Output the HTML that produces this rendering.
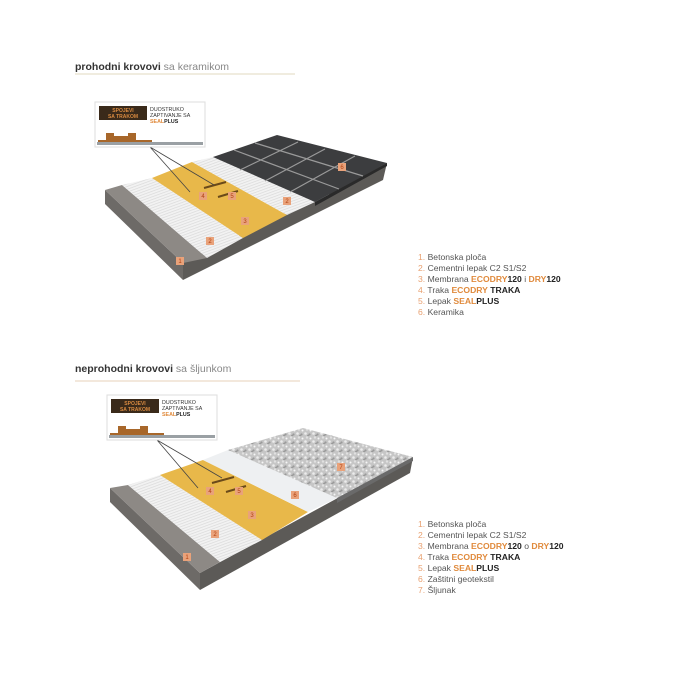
<!DOCTYPE html>
<html><head><meta charset="utf-8"><style>
html,body{margin:0;padding:0;background:#fff;}
svg{display:block;font-family:"Liberation Sans",sans-serif;}
.lg{font-size:8.6px;fill:#555;}
.o{fill:#e08a3c;font-weight:bold;}
.b{fill:#222;font-weight:bold;}
.n{fill:#e8a070;}
</style></head><body>
<svg width="678" height="678" viewBox="0 0 678 678" xmlns="http://www.w3.org/2000/svg">
<defs>
<pattern id="hatch" width="4" height="2.6" patternUnits="userSpaceOnUse" patternTransform="rotate(-20)">
<rect width="4" height="2.6" fill="#f2f2f2"/><rect width="4" height="0.7" fill="#dadada"/></pattern>
<pattern id="grav" width="8" height="8" patternUnits="userSpaceOnUse">
<rect width="8" height="8" fill="#c6c6c6"/>
<circle cx="1.5" cy="1.5" r="1.3" fill="#ececec"/><circle cx="5.5" cy="2.5" r="1.1" fill="#9a9a9a"/>
<circle cx="3" cy="5.5" r="1.2" fill="#e0e0e0"/><circle cx="6.5" cy="6.5" r="1" fill="#f6f6f6"/>
<circle cx="4" cy="3.5" r="0.7" fill="#888"/></pattern>
<g id="badge"><rect x="-4" y="-4" width="8" height="8" fill="#e9a27a"/></g>
</defs>

<!-- TOP -->
<text x="75" y="70" font-size="10.5" fill="#333"><tspan font-weight="bold">prohodni krovovi</tspan><tspan fill="#888"> sa keramikom</tspan></text>
<line x1="75" y1="74" x2="295" y2="74" stroke="#e6e0cc" stroke-width="1.2"/>

<polygon points="105,190 183,263 183,280 105,204" fill="#6d6a67"/>
<polygon points="183,263 387,163 383,180 183,280" fill="#5c5a57"/>
<polygon points="105,190 122,185 207,258 183,263" fill="#8d8985"/>
<polygon points="122,185 152,178 243,238 207,258" fill="url(#hatch)"/>
<polygon points="152,178 192,162 287,215 243,238" fill="#e8b84a"/>
<polygon points="192,162 213,157 315,202 287,215" fill="url(#hatch)"/>
<polygon points="213,157 260,142 330,195 315,202" fill="url(#hatch)"/>
<polygon points="213,157 277,135 387,163 315,202" fill="#3c3d3f"/>
<polygon points="315,202 387,163 387,166 315,206" fill="#2a2a2a"/>
<g stroke="#9a9a9a" stroke-width="1.2">
<line x1="234" y1="150" x2="339" y2="189"/><line x1="255" y1="143" x2="363" y2="176"/>
<line x1="240" y1="170" x2="298" y2="142"/><line x1="265" y1="181" x2="325" y2="149"/><line x1="290" y1="192" x2="355" y2="156"/>
</g>
<g stroke="#6a4a1a" stroke-width="2"><line x1="204" y1="188" x2="226" y2="182"/><line x1="218" y1="197" x2="238" y2="191"/></g>
<line x1="150" y1="147" x2="190" y2="192" stroke="#444" stroke-width="0.8"/>
<line x1="150" y1="147" x2="214" y2="185" stroke="#444" stroke-width="0.8"/>
<!-- inset -->
<rect x="95" y="102" width="110" height="45" fill="#fff" stroke="#ddd"/>
<rect x="99" y="106" width="48" height="14" fill="#3a2a1a"/>
<text x="123" y="112" font-size="5" fill="#d88a40" text-anchor="middle" font-weight="bold">SPOJEVI</text>
<text x="123" y="118" font-size="5" fill="#d88a40" text-anchor="middle" font-weight="bold">SA TRAKOM</text>
<text x="150" y="111" font-size="5.3" fill="#333">DUOSTRUKO</text>
<text x="150" y="117" font-size="5.3" fill="#333">ZAPTIVANJE SA</text>
<text x="150" y="123" font-size="5.3" fill="#e08a3c" font-weight="bold">SEAL<tspan fill="#222">PLUS</tspan></text>
<path d="M98,140 L106,140 L106,133 L114,133 L114,136 L128,136 L128,133 L136,133 L136,140 L152,140 L152,142 L98,142Z" fill="#a8672a"/>
<rect x="97" y="142" width="106" height="3" fill="#9aa0a4"/>

<g font-size="6" fill="#b04010" text-anchor="middle">
<use href="#badge" x="180" y="261"/><text x="180" y="263">1</text>
<use href="#badge" x="210" y="241"/><text x="210" y="243">2</text>
<use href="#badge" x="245" y="221"/><text x="245" y="223">3</text>
<use href="#badge" x="203" y="196"/><text x="203" y="198">4</text>
<use href="#badge" x="232" y="196"/><text x="232" y="198">5</text>
<use href="#badge" x="287" y="201"/><text x="287" y="203">2</text>
<use href="#badge" x="342" y="167"/><text x="342" y="169">6</text>
</g>

<g class="lg">
<text x="418" y="260"><tspan class="n">1. </tspan>Betonska ploča</text>
<text x="418" y="271"><tspan class="n">2. </tspan>Cementni lepak C2 S1/S2</text>
<text x="418" y="282"><tspan class="n">3. </tspan>Membrana <tspan class="o">ECODRY</tspan><tspan class="b">120</tspan> i <tspan class="o">DRY</tspan><tspan class="b">120</tspan></text>
<text x="418" y="293"><tspan class="n">4. </tspan>Traka <tspan class="o">ECODRY</tspan> <tspan class="b">TRAKA</tspan></text>
<text x="418" y="304"><tspan class="n">5. </tspan>Lepak <tspan class="o">SEAL</tspan><tspan class="b">PLUS</tspan></text>
<text x="418" y="315"><tspan class="n">6. </tspan>Keramika</text>
</g>

<!-- BOTTOM -->
<text x="75" y="372" font-size="10.5" fill="#333"><tspan font-weight="bold">neprohodni krovovi</tspan><tspan fill="#888"> sa šljunkom</tspan></text>
<line x1="75" y1="381" x2="300" y2="381" stroke="#ecd9c8" stroke-width="1.2"/>

<polygon points="110,488 200,573 200,590 110,502" fill="#6d6a67"/>
<polygon points="200,573 413,457 410,473 200,590" fill="#5c5a57"/>
<polygon points="110,488 128,485 220,562 200,573" fill="#8d8985"/>
<polygon points="128,485 160,475 262,540 220,562" fill="url(#hatch)"/>
<polygon points="160,475 203,460 308,512 262,540" fill="#e8b84a"/>
<polygon points="203,460 228,450 337,498 308,512" fill="#eef0f2"/>
<polygon points="228,450 280,436 360,486 337,498" fill="#eef0f2"/>
<polygon points="228,450 303,428 413,457 337,498" fill="url(#grav)"/>
<polygon points="337,498 413,457 413,461 337,503" fill="#6a6a6a"/>
<g stroke="#6a4a1a" stroke-width="2"><line x1="212" y1="483" x2="234" y2="477"/><line x1="226" y1="492" x2="246" y2="486"/></g>
<line x1="157" y1="440" x2="198" y2="488" stroke="#444" stroke-width="0.8"/>
<line x1="157" y1="440" x2="222" y2="478" stroke="#444" stroke-width="0.8"/>
<rect x="107" y="395" width="110" height="45" fill="#fff" stroke="#ddd"/>
<rect x="111" y="399" width="48" height="14" fill="#3a2a1a"/>
<text x="135" y="405" font-size="5" fill="#d88a40" text-anchor="middle" font-weight="bold">SPOJEVI</text>
<text x="135" y="411" font-size="5" fill="#d88a40" text-anchor="middle" font-weight="bold">SA TRAKOM</text>
<text x="162" y="404" font-size="5.3" fill="#333">DUOSTRUKO</text>
<text x="162" y="410" font-size="5.3" fill="#333">ZAPTIVANJE SA</text>
<text x="162" y="416" font-size="5.3" fill="#e08a3c" font-weight="bold">SEAL<tspan fill="#222">PLUS</tspan></text>
<path d="M110,433 L118,433 L118,426 L126,426 L126,429 L140,429 L140,426 L148,426 L148,433 L164,433 L164,435 L110,435Z" fill="#a8672a"/>
<rect x="109" y="435" width="106" height="3" fill="#9aa0a4"/>

<g font-size="6" fill="#b04010" text-anchor="middle">
<use href="#badge" x="187" y="557"/><text x="187" y="559">1</text>
<use href="#badge" x="215" y="534"/><text x="215" y="536">2</text>
<use href="#badge" x="252" y="515"/><text x="252" y="517">3</text>
<use href="#badge" x="210" y="491"/><text x="210" y="493">4</text>
<use href="#badge" x="239" y="491"/><text x="239" y="493">5</text>
<use href="#badge" x="295" y="495"/><text x="295" y="497">6</text>
<use href="#badge" x="341" y="467"/><text x="341" y="469">7</text>
</g>

<g class="lg">
<text x="418" y="527"><tspan class="n">1. </tspan>Betonska ploča</text>
<text x="418" y="538"><tspan class="n">2. </tspan>Cementni lepak C2 S1/S2</text>
<text x="418" y="549"><tspan class="n">3. </tspan>Membrana <tspan class="o">ECODRY</tspan><tspan class="b">120</tspan> o <tspan class="o">DRY</tspan><tspan class="b">120</tspan></text>
<text x="418" y="560"><tspan class="n">4. </tspan>Traka <tspan class="o">ECODRY</tspan> <tspan class="b">TRAKA</tspan></text>
<text x="418" y="571"><tspan class="n">5. </tspan>Lepak <tspan class="o">SEAL</tspan><tspan class="b">PLUS</tspan></text>
<text x="418" y="582"><tspan class="n">6. </tspan>Zaštitni geotekstil</text>
<text x="418" y="593"><tspan class="n">7. </tspan>Šljunak</text>
</g>
</svg>
</body></html>
